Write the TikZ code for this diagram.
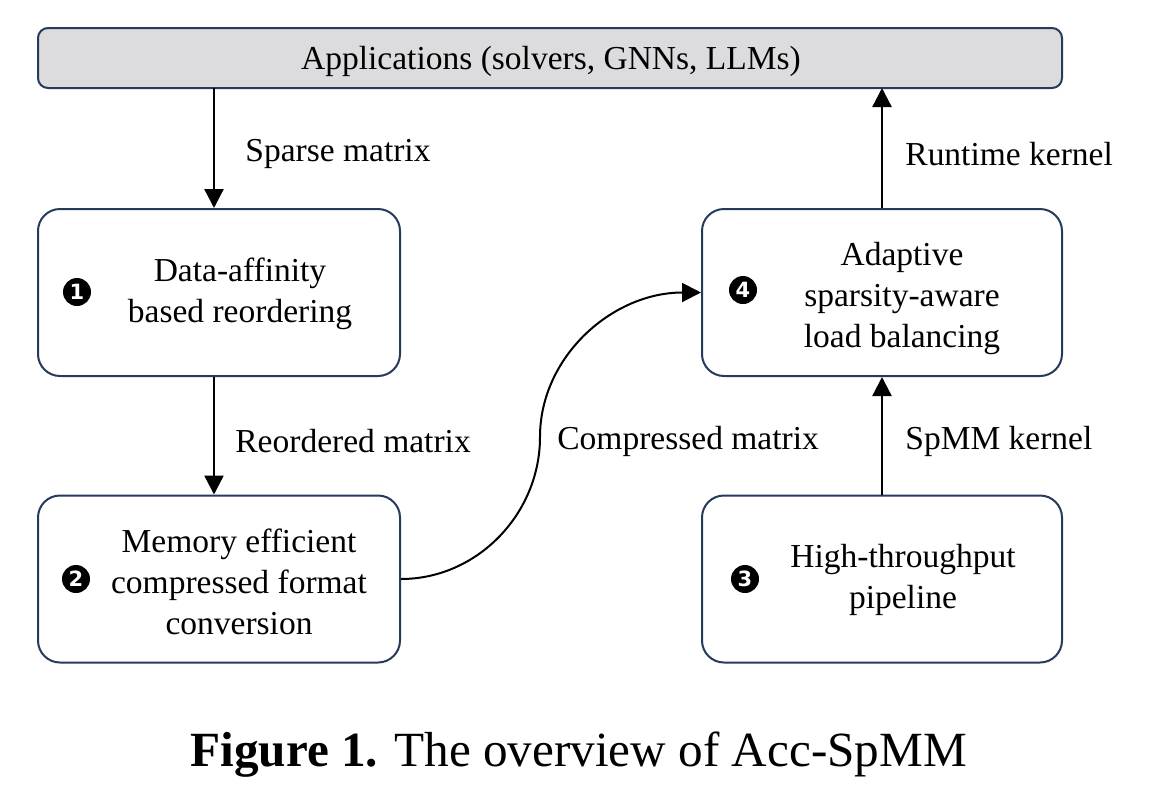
\documentclass[tikz,border=0pt]{standalone}
\usepackage{fontspec}
\setmainfont{Liberation Serif}
\newfontfamily\numfont{DejaVu Sans}
\usetikzlibrary{arrows.meta}
\definecolor{boxline}{RGB}{38,58,92}
\definecolor{topfill}{RGB}{220,219,222}
\tikzset{
  stagebox/.style={draw=boxline, line width=1pt, rounded corners=11pt, fill=white},
  topbox/.style={draw=boxline, line width=1pt, rounded corners=5pt, fill=topfill},
  boxtext/.style={align=center, font=\fontsize{16.75}{20.5}\selectfont, inner sep=0pt},
  lbl/.style={anchor=west, font=\fontsize{16.75}{20}\selectfont, inner sep=0pt},
  numdot/.style={circle, fill=black, text=white, inner sep=0pt, minimum size=14pt, font=\numfont\bfseries\fontsize{10.5}{10.5}\selectfont},
  flow/.style={line width=1.2pt, -{Triangle[length=9.5pt, width=9.5pt]}},
  curveflow/.style={line width=1pt, -{Triangle[length=9.5pt, width=9.5pt]}},
}
\begin{document}
\begin{tikzpicture}[x=0.5pt, y=-0.5pt]
\useasboundingbox (0,0) rectangle (1164,800);
% boxes
\draw[topbox] (38,28) rectangle (1062,88);
\node[boxtext] (app) at (551,61) {Applications (solvers, GNNs, LLMs)};
\coordinate (appL) at (214,88);
\coordinate (appR) at (882,88);

\node[stagebox, minimum width=181pt, minimum height=83.5pt] (b1) at (219,292.5) {};
\node[stagebox, minimum width=181pt, minimum height=83.5pt] (b2) at (219,579) {};
\node[stagebox, minimum width=180pt, minimum height=83.5pt] (b3) at (882,579) {};
\node[stagebox, minimum width=180pt, minimum height=83.5pt] (b4) at (882,292.5) {};

\node[boxtext] (t1) at (240,294) {Data-affinity\\based reordering};
\node[boxtext] (t2) at (239,582) {Memory efficient\\compressed format\\conversion};
\node[boxtext] (t3) at (903,580) {High-throughput\\pipeline};
\node[boxtext] (t4) at (902,298) {Adaptive\\sparsity-aware\\load balancing};

\node[numdot] (n1) at (77,292) {1};
\node[numdot] (n2) at (76,579) {2};
\node[numdot] (n3) at (745,579) {3};
\node[numdot] (n4) at (743,290) {4};

% connectors
\draw[flow] (appL) -- (b1.north -| appL);
\draw[flow] (b1.south -| appL) -- (b2.north -| appL);
\draw[flow] (b3.north) -- (b4.south);
\draw[flow] (b4.north) -- (appR);
\draw[curveflow] (b2.east) .. controls (477,579) and (540,514) .. (540,437)
  .. controls (540,357) and (612,292.5) .. (b4.west);

% labels
\node[lbl] (l1) at (245,154) {Sparse matrix};
\node[lbl] (l2) at (235,441) {Reordered matrix};
\node[lbl] (l3) at (557,441) {Compressed matrix};
\node[lbl] (l4) at (905,441) {SpMM kernel};
\node[lbl] (l5) at (905,154) {Runtime kernel};

% caption
\node[anchor=base west, inner sep=0pt, font=\fontsize{24.6}{28}\selectfont] (cap) at (190,766) {\textbf{Figure 1.} The overview of Acc-SpMM};
\end{tikzpicture}
\end{document}
